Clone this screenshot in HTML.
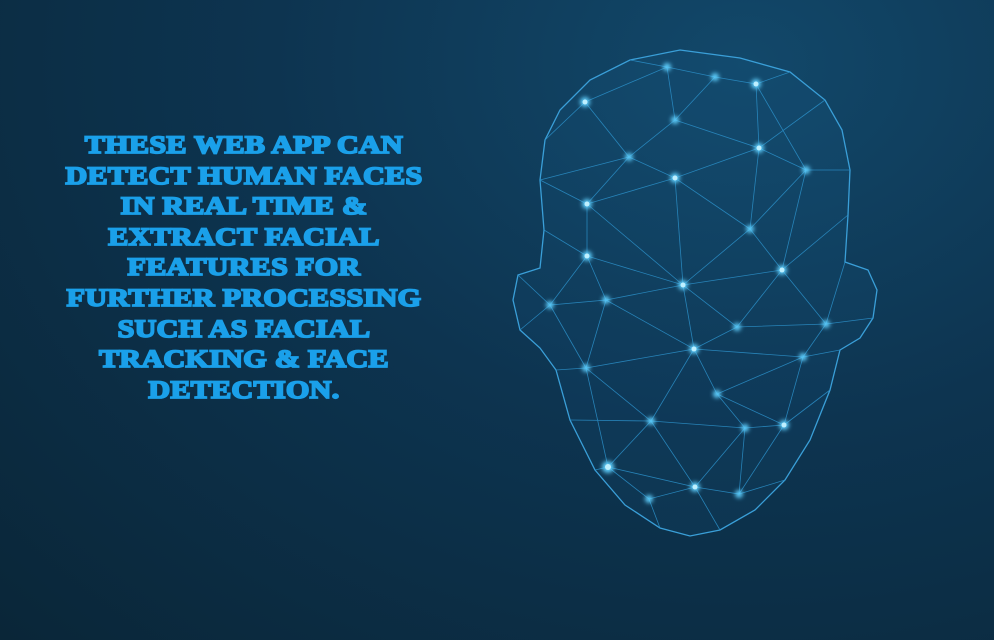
<!DOCTYPE html>
<html><head><style>
html,body{margin:0;padding:0;width:994px;height:640px;overflow:hidden}
body{background:radial-gradient(ellipse at 75% 10%,#12486a 0%,#0d3450 45%,#0a2638 100%);position:relative;font-family:"Liberation Serif",serif}
.t{position:absolute;left:55px;width:400px;top:131px;text-align:center;color:#1aa0ea;font-weight:bold;font-size:25px;line-height:30.6px;letter-spacing:0.3px;-webkit-text-stroke:1.8px #1aa0ea;transform:scaleX(1.2);transform-origin:255px 0}
svg{position:absolute;left:0;top:0}
</style></head><body>
<div class="t">THESE WEB APP CAN<br>DETECT HUMAN FACES<br>IN REAL TIME &amp;<br>EXTRACT FACIAL<br>FEATURES FOR<br>FURTHER PROCESSING<br>SUCH AS FACIAL<br>TRACKING &amp; FACE<br>DETECTION.</div>
<svg width="994" height="640">
<defs><filter id="g"><feGaussianBlur stdDeviation="2"/></filter></defs>
<path d="M680,50 L740,58 790,72 825,100 842,130 850,170 848,215 845,262 868,270 877,290 873,318 860,338 840,350 830,390 810,440 785,480 755,510 720,530 690,536 660,528 625,505 595,470 570,420 556,370 540,348 520,330 513,300 518,275 540,268 544,230 540,180 545,140 560,110 590,80 630,60 Z" fill="rgba(40,140,200,0.06)" stroke="#3a9fd8" stroke-width="1.3"/>
<g stroke="#2c8fc8" stroke-width="0.8" opacity="0.85" fill="none">
<path d="M585,102 L667,67 L715,77 L756,84 L806,170 M585,102 L629,157 L675,120 L667,67 M675,120 L715,77 M675,120 L759,148 L756,84 M759,148 L806,170 L782,270 M629,157 L675,178 L759,148 L750,229 L675,178 L587,204 L629,157 M587,204 L587,256 L683,285 L675,178 M683,285 L750,229 L782,270 L683,285 M587,256 L550,305 L606,300 L587,256 M606,300 L683,285 L737,327 L782,270 L826,324 L737,327 L694,349 L683,285 M606,300 L694,349 L586,368 L606,300 M550,305 L586,368 M694,349 L803,357 L826,324 M803,357 L717,394 L694,349 L651,421 L586,368 M717,394 L784,425 L803,357 M717,394 L745,428 L784,425 M651,421 L745,428 M651,421 L608,467 L586,368 M608,467 L695,487 L651,421 M695,487 L745,428 L739,494 L695,487 L649,499 L608,467 M739,494 L784,425 M545,140 L585,102 M540,180 L587,204 M544,230 L587,256 M850,170 L806,170 M848,215 L782,270 M845,262 L826,324 M790,72 L756,84 M630,60 L667,67 M873,318 L826,324 M840,350 L803,357 M830,390 L784,425 M785,480 L739,494 M720,530 L695,487 M660,528 L649,499 M595,470 L608,467 M570,420 L651,421 M556,370 L586,368 M520,330 L550,305 M518,275 L550,305 M825,100 L759,148 M629,157 L540,180 M587,204 L683,285 M750,229 L806,170"/>
</g>
<g fill="#5fd0ff" filter="url(#g)">
<circle cx="585" cy="102" r="5"/><circle cx="667" cy="67" r="4"/><circle cx="715" cy="77" r="4"/><circle cx="756" cy="84" r="5"/><circle cx="675" cy="120" r="4"/><circle cx="629" cy="157" r="4"/><circle cx="759" cy="148" r="5"/><circle cx="806" cy="170" r="4"/><circle cx="675" cy="178" r="5"/><circle cx="587" cy="204" r="5"/><circle cx="750" cy="229" r="4"/><circle cx="587" cy="256" r="5"/><circle cx="683" cy="285" r="5"/><circle cx="782" cy="270" r="5"/><circle cx="550" cy="305" r="4"/><circle cx="606" cy="300" r="4"/><circle cx="737" cy="327" r="4"/><circle cx="826" cy="324" r="4"/><circle cx="694" cy="349" r="5"/><circle cx="586" cy="368" r="4"/><circle cx="803" cy="357" r="4"/><circle cx="717" cy="394" r="4"/><circle cx="651" cy="421" r="4"/><circle cx="784" cy="425" r="5"/><circle cx="745" cy="428" r="4"/><circle cx="608" cy="467" r="6"/><circle cx="695" cy="487" r="5"/><circle cx="649" cy="499" r="4"/><circle cx="739" cy="494" r="4"/>
</g>
<g fill="#bff0ff">
<circle cx="585" cy="102" r="2.5"/><circle cx="756" cy="84" r="2.5"/><circle cx="759" cy="148" r="2.5"/><circle cx="675" cy="178" r="2.5"/><circle cx="587" cy="204" r="2.5"/><circle cx="587" cy="256" r="2.5"/><circle cx="683" cy="285" r="2.5"/><circle cx="782" cy="270" r="2.5"/><circle cx="694" cy="349" r="2.5"/><circle cx="784" cy="425" r="2.5"/><circle cx="608" cy="467" r="3"/><circle cx="695" cy="487" r="2.5"/>
</g>
</svg>
</body></html>
